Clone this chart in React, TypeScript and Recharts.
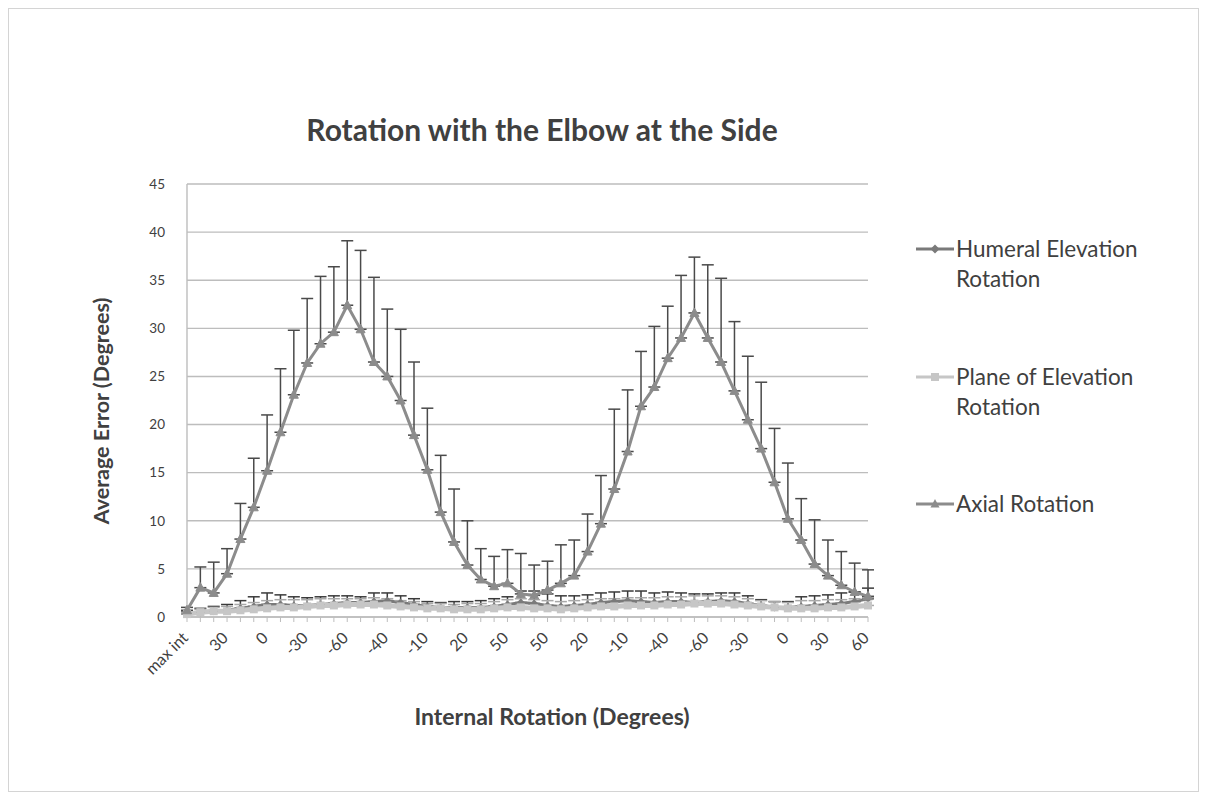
import React from "react";
import { LineChart, Line, XAxis, YAxis, CartesianGrid, ErrorBar } from "recharts";

const categories = [
  "max int", "50", "40", "30", "20", "10", "0", "-10", "-20", "-30", "-40", "-50", "-60",
  "max ext", "-50", "-40", "-30", "-20", "-10", "0", "10", "20", "30", "40", "50", "60",
  "max int", "50", "40", "30", "20", "10", "0", "-10", "-20", "-30", "-40", "-50", "max ext",
  "-60", "-50", "-40", "-30", "-20", "-10", "0", "10", "20", "30", "40", "50", "60",
];

const axialValues = [
  0.7, 3.05, 2.5, 4.5, 8.1, 11.4, 15.2, 19.2, 23.1, 26.4, 28.4, 29.6, 32.4,
  29.9, 26.5, 25.0, 22.5, 18.9, 15.3, 10.9, 7.8, 5.4, 3.9, 3.2, 3.5, 2.4,
  2.25, 2.8, 3.5, 4.3, 6.8, 9.7, 13.3, 17.2, 21.9, 23.9, 26.9, 29.0, 31.6,
  29.0, 26.5, 23.5, 20.5, 17.5, 14.0, 10.2, 8.0, 5.5, 4.3, 3.3, 2.6, 2.15,
];
const axialErrors = [
  0.3, 2.15, 3.2, 2.6, 3.7, 5.1, 5.8, 6.6, 6.7, 6.7, 7.0, 6.8, 6.7,
  8.2, 8.8, 7.0, 7.4, 7.6, 6.4, 5.9, 5.5, 4.6, 3.2, 3.1, 3.5, 4.2,
  3.15, 3.0, 4.0, 3.7, 3.9, 5.0, 8.3, 6.4, 5.7, 6.3, 5.4, 6.5, 5.8,
  7.6, 8.7, 7.2, 6.6, 6.9, 5.6, 5.8, 4.3, 4.6, 3.7, 3.5, 3.0, 2.75,
];

const humeralValues = [
  0.3, 0.5, 0.6, 0.7, 0.9, 1.1, 1.3, 1.3, 1.2, 1.2, 1.3, 1.4, 1.5,
  1.5, 1.6, 1.7, 1.5, 1.3, 1.1, 1.0, 1.0, 1.0, 1.0, 1.1, 1.3, 1.5,
  1.4, 1.2, 1.1, 1.2, 1.3, 1.5, 1.6, 1.7, 1.6, 1.5, 1.6, 1.6, 1.5,
  1.6, 1.7, 1.6, 1.4, 1.2, 1.0, 1.0, 1.1, 1.2, 1.3, 1.4, 1.6, 1.9,
];
const humeralErrors = [
  0.3, 0.4, 0.5, 0.6, 0.8, 1.0, 1.2, 1.0, 0.9, 0.8, 0.8, 0.8, 0.7,
  0.6, 0.9, 0.8, 0.7, 0.6, 0.5, 0.5, 0.6, 0.6, 0.7, 0.8, 0.8, 1.2,
  1.3, 1.2, 1.1, 1.0, 1.0, 1.0, 1.0, 1.0, 1.1, 1.0, 1.0, 0.9, 0.9,
  0.8, 0.8, 0.9, 0.8, 0.6, 0.6, 0.6, 1.0, 1.0, 1.0, 1.1, 1.0, 1.1,
];

const planeValues = [
  0.3, 0.5, 0.6, 0.6, 0.7, 0.8, 0.9, 1.0, 1.0, 1.1, 1.2, 1.2, 1.3,
  1.3, 1.3, 1.2, 1.1, 1.0, 0.9, 0.9, 0.8, 0.8, 0.8, 0.9, 1.0, 1.0,
  0.9, 0.9, 0.8, 0.9, 1.0, 1.1, 1.1, 1.2, 1.2, 1.2, 1.3, 1.3, 1.4,
  1.4, 1.4, 1.3, 1.2, 1.1, 1.0, 0.9, 0.9, 0.9, 1.0, 1.0, 1.1, 1.2,
];
const planeErrors = [
  0.2, 0.3, 0.4, 0.5, 0.6, 0.7, 0.8, 0.8, 0.8, 0.7, 0.7, 0.7, 0.6,
  0.6, 0.7, 0.7, 0.6, 0.6, 0.5, 0.5, 0.5, 0.6, 0.6, 0.7, 0.8, 0.9,
  0.9, 0.8, 0.8, 0.8, 0.8, 0.8, 0.8, 0.8, 0.8, 0.8, 0.8, 0.8, 0.8,
  0.8, 0.8, 0.8, 0.7, 0.6, 0.6, 0.6, 0.8, 0.8, 0.8, 0.8, 0.8, 0.8,
];

const yTicks = [0, 5, 10, 15, 20, 25, 30, 35, 40, 45];

const seriesNames = ["Humeral Elevation Rotation", "Plane of Elevation Rotation", "Axial Rotation"];

const data = categories.map((c, i) => ({
  angle: c,
  humeral: humeralValues[i],
  humeralErr: [0, humeralErrors[i]],
  plane: planeValues[i],
  planeErr: [0, planeErrors[i]],
  axial: axialValues[i],
  axialErr: [0, axialErrors[i]],
}));

const FONT = "Lato, 'Open Sans', sans-serif";
const TEXT = "#404040";
const AXIAL = "#8c8c8c";
const HUMERAL = "#7a7a7a";
const PLANE = "#c6c6c6";

const Triangle = (props: any) => {
  const { cx, cy, fill } = props;
  if (cx == null || cy == null) return <g />;
  return <polygon points={`${cx},${cy - 5} ${cx - 4.5},${cy + 3.5} ${cx + 4.5},${cy + 3.5}`} fill={fill} stroke={fill} strokeWidth={1} />;
};
const Diamond = (props: any) => {
  const { cx, cy, fill } = props;
  if (cx == null || cy == null) return <g />;
  return <polygon points={`${cx},${cy - 4} ${cx + 4},${cy} ${cx},${cy + 4} ${cx - 4},${cy}`} fill={fill} />;
};
const Square = (props: any) => {
  const { cx, cy, fill } = props;
  if (cx == null || cy == null) return <g />;
  return <rect x={cx - 4} y={cy - 4} width={8} height={8} fill={fill} />;
};

const XTick = (props: any) => {
  const { x, y, payload } = props;
  if (payload.index % 3 !== 0) return <g />;
  return (
    <g transform={`translate(${x + 2},${y + 15}) rotate(-45)`}>
      <text x={0} y={0} textAnchor="end" fontSize={16} fill={TEXT} fontFamily={FONT}>
        {payload.value}
      </text>
    </g>
  );
};

const legendItems = [
  { lines: ["Humeral Elevation", "Rotation"], color: HUMERAL, shape: "diamond" },
  { lines: ["Plane of Elevation", "Rotation"], color: PLANE, shape: "square" },
  { lines: ["Axial Rotation"], color: AXIAL, shape: "triangle" },
];

const LegendBox = () => (
  <div style={{ position: "absolute", left: 906, top: 225, fontFamily: FONT, color: TEXT, fontSize: 22.5 }}>
    {legendItems.map((it, k) => (
      <div key={k} style={{ display: "flex", alignItems: "flex-start", height: k === 2 ? 40 : 127.5 }}>
        <svg width={40} height={30} style={{ flex: "none" }}>
          <line x1={1} y1={15} x2={39} y2={15} stroke={it.color} strokeWidth={3} />
          {it.shape === "diamond" && <polygon points="20,10.5 24.5,15 20,19.5 15.5,15" fill={it.color} />}
          {it.shape === "square" && <rect x={16} y={11} width={8} height={8} fill={it.color} />}
          {it.shape === "triangle" && <polygon points="20,10 24.5,18.5 15.5,18.5" fill={it.color} />}
        </svg>
        <div style={{ lineHeight: "30px", marginLeft: 1 }}>
          {it.lines.map((l, j) => (
            <div key={j}>{l}</div>
          ))}
        </div>
      </div>
    ))}
  </div>
);

export default function App() {
  return (
    <div style={{ position: "relative", width: 1189, height: 782, border: "1px solid #d4d4d4", background: "#fff" }}>
      <div style={{ position: "absolute", left: 0, width: 1066, top: 102, textAlign: "center", fontFamily: FONT, fontWeight: 700, fontSize: 30, color: TEXT, lineHeight: "36px" }}>
        Rotation with the Elbow at the Side
      </div>
      <div style={{ position: "absolute", left: 92 - 150, top: 402 - 14, width: 300, textAlign: "center", transform: "rotate(-90deg)", fontFamily: FONT, fontWeight: 700, fontSize: 21.5, color: TEXT, lineHeight: "28px" }}>
        Average Error (Degrees)
      </div>
      <div style={{ position: "absolute", left: 543 - 200, top: 707 - 16, width: 400, textAlign: "center", fontFamily: FONT, fontWeight: 700, fontSize: 23, color: TEXT, lineHeight: "32px" }}>
        Internal Rotation (Degrees)
      </div>
      <LineChart
        width={1189}
        height={782}
        data={data}
        margin={{ top: 175, right: 330, bottom: 114, left: 138 }}
        style={{ position: "absolute", left: 0, top: 0 }}
      >
        <CartesianGrid vertical={false} stroke="#bdbdbd" strokeWidth={1.4} />
        <XAxis
          dataKey="angle"
          interval={0}
          tick={<XTick />}
          tickLine={{ stroke: "#bdbdbd" }}
          tickSize={5}
          axisLine={{ stroke: "#bdbdbd", strokeWidth: 1.4 }}
          height={60}
          padding={{ left: 0, right: 0 }}
        />
        <YAxis
          domain={[0, 45]}
          ticks={yTicks}
          width={40}
          tick={{ fontSize: 13.5, fill: TEXT, fontFamily: FONT }}
          tickLine={false}
          axisLine={{ stroke: "#bdbdbd", strokeWidth: 1.4 }}
          tickMargin={16}
        />
        <Line
          name={seriesNames[0]}
          type="linear"
          dataKey="humeral"
          stroke={HUMERAL}
          strokeWidth={3}
          dot={<Diamond fill={HUMERAL} />}
          isAnimationActive={false}
        >
          <ErrorBar dataKey="humeralErr" direction="y" width={6} stroke="#3a3a3a" strokeWidth={1.5} />
        </Line>
        <Line
          name={seriesNames[1]}
          type="linear"
          dataKey="plane"
          stroke={PLANE}
          strokeWidth={5}
          dot={<Square fill={PLANE} />}
          isAnimationActive={false}
        >
          <ErrorBar dataKey="planeErr" direction="y" width={6} stroke="#a8a8a8" strokeWidth={1.5} />
        </Line>
        <Line
          name={seriesNames[2]}
          type="linear"
          dataKey="axial"
          stroke={AXIAL}
          strokeWidth={3}
          dot={<Triangle fill={AXIAL} />}
          isAnimationActive={false}
        >
          <ErrorBar dataKey="axialErr" direction="y" width={6} stroke="#4a4a4a" strokeWidth={1.5} />
        </Line>
      </LineChart>
      <LegendBox />
    </div>
  );
}
